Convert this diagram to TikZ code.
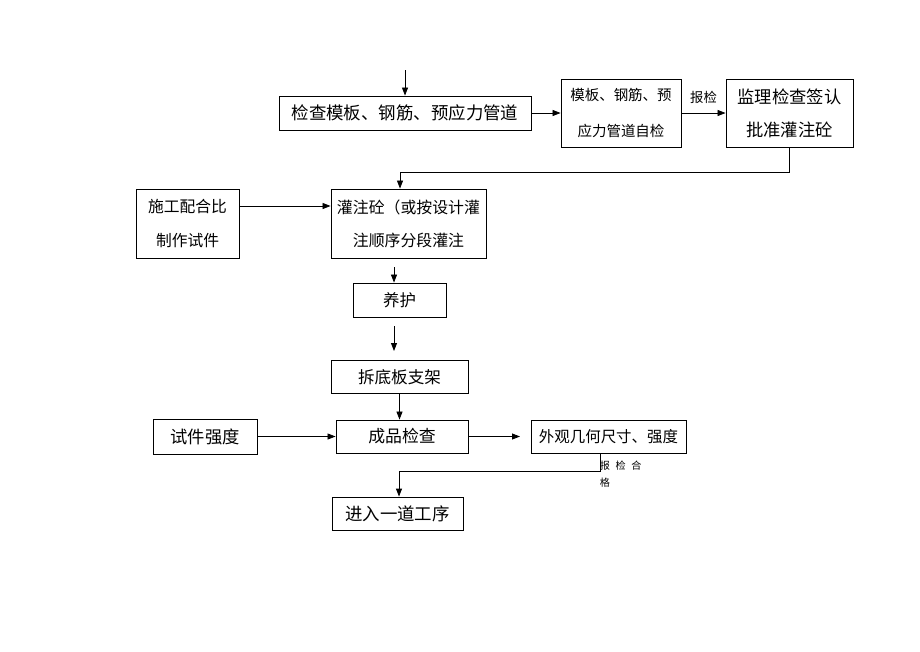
\documentclass[tikz,border=0pt]{standalone}
\usepackage{fontspec}
\newfontfamily\cjk{Noto Sans CJK SC}
\usetikzlibrary{arrows.meta}
\tikzset{
  box/.style={draw, line width=0.6pt, inner sep=0pt, align=center,
    font=\cjk\fontsize{#1}{23.5pt}\selectfont},
  box/.default=12pt,
  flow/.style={-{Triangle[length=2mm,width=1.5mm]}, line width=0.6pt},
}
\begin{document}
\begin{tikzpicture}[x=0.025cm,y=-0.025cm]
      \useasboundingbox (0,0) rectangle (920,651);
      % boxes
      \node[box=12.4pt, minimum width=6.3cm, minimum height=0.85cm] (jianCha) at (405,113) {检查模板、钢筋、预应力管道};
      \node[box=10.3pt, minimum width=3cm, minimum height=1.7cm] (ziJian) at (621,113) {模板、钢筋、预\\[2pt]应力管道自检};
      \node[box=12.3pt, minimum width=3.175cm, minimum height=1.7cm] (jianLi) at (789.5,113) {监理检查签认\\批准灌注砼};
      \node[box=11.3pt, minimum width=3.875cm, minimum height=1.725cm] (guanZhu) at (408.5,223.5) {灌注砼（或按设计灌\\注顺序分段灌注};
      \node[box=11.2pt, minimum width=2.575cm, minimum height=1.725cm] (peiHeBi) at (187.5,223.5) {施工配合比\\制作试件};
      \node[box=11.7pt, minimum width=2.325cm, minimum height=0.85cm] (yangHu) at (399.5,300) {养护};
      \node[box=11.8pt, minimum width=3.425cm, minimum height=0.825cm] (chaiJia) at (399.5,377) {拆底板支架};
      \node[box=12pt, minimum width=3.3cm, minimum height=0.825cm] (chengPin) at (402,436.5) {成品检查};
      \node[box=12.3pt, minimum width=2.6cm, minimum height=0.875cm] (shiJian) at (205,436.5) {试件强度};
      \node[box=11pt, minimum width=3.875cm, minimum height=0.825cm] (waiGuan) at (608.5,436.5) {外观几何尺寸、强度};
      \node[box=12.4pt, minimum width=3.275cm, minimum height=0.825cm] (jinRu) at (397.5,513.5) {进入一道工序};
      % free ends and turns
      \coordinate (start) at (405,70);
      \coordinate (turnA) at (400,172);
      \coordinate (outA) at (394,267);
      \coordinate (outB) at (394,326);
      \coordinate (inB) at (394,351);
      \coordinate (outC) at (520,436.5);
      \coordinate (turnB) at (399,471);
      \begin{scope}[flow]
        \draw (start) -- (jianCha.north);
        \draw (jianCha) -- (ziJian);
        \draw (ziJian) -- node[above=3pt, font=\cjk\fontsize{9.5pt}{10pt}\selectfont] (baoJian) {报检} (jianLi);
        \draw (jianLi.south) |- (turnA) -- (turnA |- guanZhu.north);
        \draw (peiHeBi.east |- 0,206) -- (guanZhu.west |- 0,206);
        \draw (outA) -- (outA |- yangHu.north);
        \draw (outB) -- (inB);
        \draw (chaiJia.south) -- (chaiJia.south |- chengPin.north);
        \draw (shiJian) -- (chengPin);
        \draw (chengPin) -- (outC);
        \draw (waiGuan.south -| 600,0) |- (turnB) -- (turnB |- jinRu.north);
      \end{scope}
      \node[anchor=north west, inner sep=0pt, align=left, font=\cjk\fontsize{7.2pt}{12pt}\selectfont] (heGe) at (599.5,461) {报\hspace{4pt}检\hspace{4pt}合\\格};
    \end{tikzpicture}
\end{document}
